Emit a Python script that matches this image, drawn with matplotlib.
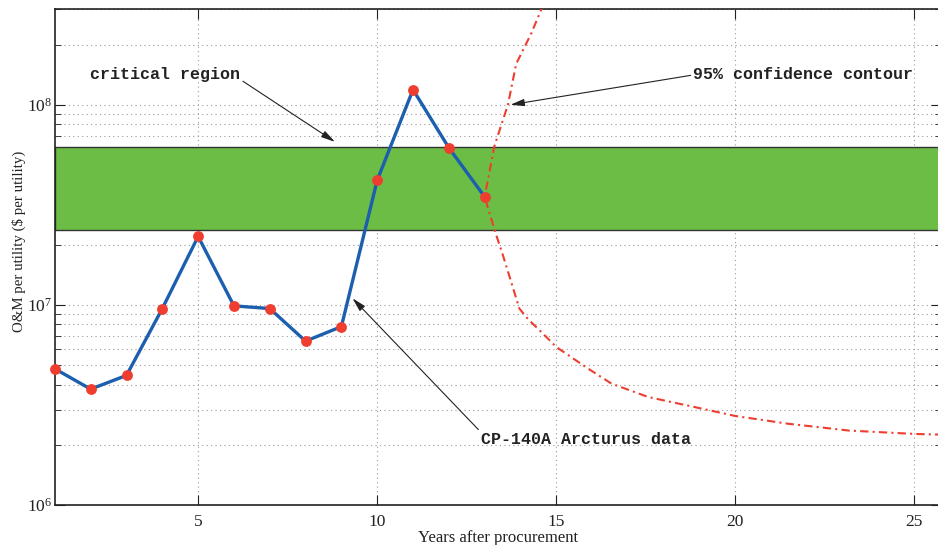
"""O&M cost per utility for the CP-140A Arcturus fleet, with the critical band
and the 95% confidence contour of the fitted cost model."""

import matplotlib

matplotlib.use("Agg")

from matplotlib import pyplot as plt
from matplotlib.ticker import FixedLocator, LogLocator, NullFormatter

# Observed O&M cost per utility ($) by year after procurement
YEARS = [1, 2, 3, 4, 5, 6, 7, 8, 9, 10, 11, 12, 13]
OM_COST = [4.8e6, 3.8e6, 4.45e6, 9.6e6, 2.2e7, 9.9e6, 9.6e6,
           6.6e6, 7.8e6, 4.2e7, 1.19e8, 6.1e7, 3.47e7]

# 95% confidence contour, traced from the top branch down to the long tail
CONTOUR_YEARS = [14.65, 14.3, 13.88, 13.65, 13.27, 13.0, 13.3, 13.49, 13.97,
                 14.2, 14.77, 15.0, 15.89, 16.54, 17.57, 18.87, 20.0, 21.49,
                 23.17, 25.0, 25.8]
CONTOUR_COST = [3.2e8, 2.27e8, 1.6e8, 1.0e8, 6.2e7, 3.47e7, 2.3e7, 1.82e7,
                9.6e6, 8.55e6, 6.79e6, 6.17e6, 4.81e6, 4.05e6, 3.47e6, 3.09e6,
                2.79e6, 2.55e6, 2.36e6, 2.27e6, 2.25e6]

# Critical cost region ($ per utility)
BAND_LOW = 2.36e7
BAND_HIGH = 6.12e7

X_TICKS = [5, 10, 15, 20, 25]

BLUE = "#1c5fae"
RED = "#ef3e2f"
GREEN = "#6cbd45"
GRID = "#9a9a9a"


def style() -> None:
    plt.rcParams["font.family"] = ["Liberation Serif", "DejaVu Serif"]
    plt.rcParams["mathtext.fontset"] = "custom"
    plt.rcParams["mathtext.rm"] = "Liberation Serif"
    plt.rcParams["mathtext.it"] = "Liberation Serif:italic"
    plt.rcParams["mathtext.bf"] = "Liberation Serif:bold"


def annotate(ax, text, xy, xytext, relpos):
    ax.annotate(
        text,
        xy=xy,
        xytext=xytext,
        ha="left",
        va="center",
        family=["Liberation Mono", "DejaVu Sans Mono"],
        fontweight="bold",
        fontsize=12,
        color="#222222",
        arrowprops=dict(
            arrowstyle="-|>,head_length=0.7,head_width=0.18",
            color="#222222",
            lw=0.8,
            relpos=relpos,
            shrinkA=0,
            shrinkB=0,
        ),
        zorder=6,
    )


def main() -> None:
    style()
    fig = plt.figure(figsize=(9.38, 5.45), dpi=100)
    ax = fig.add_axes([0.0585, 0.073, 0.945, 0.910])

    ax.axhspan(BAND_LOW, BAND_HIGH, facecolor=GREEN, edgecolor="#333333",
               lw=1.0, zorder=2)
    ax.plot(YEARS, OM_COST, color=BLUE, lw=2.4, zorder=3)
    ax.plot(YEARS, OM_COST, ls="none", marker="o", ms=7.8, color=RED,
            markeredgewidth=0, zorder=4, clip_on=False)
    ax.plot(CONTOUR_YEARS, CONTOUR_COST, color=RED, lw=1.5,
            ls=(0, (4, 2, 1, 2)), zorder=5)

    ax.set_yscale("log")
    ax.set_xlim(1, 25.75)
    ax.set_ylim(1e6, 3e8)
    ax.xaxis.set_major_locator(FixedLocator(X_TICKS))
    ax.yaxis.set_major_locator(LogLocator(base=10, numticks=10))
    ax.yaxis.set_minor_locator(LogLocator(base=10, subs=range(2, 10), numticks=30))
    ax.yaxis.set_minor_formatter(NullFormatter())

    ax.grid(True, which="major", color=GRID, lw=0.8, ls=(0, (1, 3)), zorder=1)
    ax.grid(True, which="minor", axis="y", color=GRID, lw=0.8, ls=(0, (1, 3)),
            zorder=1)
    ax.set_axisbelow(True)

    ax.tick_params(which="both", direction="in", top=True, right=True,
                   labelsize=12.5, colors="#222222")
    ax.tick_params(which="major", length=7, width=0.8)
    ax.tick_params(which="minor", length=4, width=0.6)
    ax.tick_params(axis="x", pad=6)
    ax.tick_params(axis="y", pad=2)
    for spine in ax.spines.values():
        spine.set_color("#222222")
        spine.set_linewidth(1.2)

    ax.set_xlabel("Years after procurement", fontsize=12, labelpad=0,
                  color="#222222")
    ax.set_ylabel("O&M per utility ($ per utility)", fontsize=10.7,
                  color="#222222")
    ax.yaxis.set_label_coords(-0.033, 0.531)

    annotate(ax, "critical region", xy=(8.82, 6.53e7), xytext=(1.985, 1.41e8),
             relpos=(1.0, 0.2))
    annotate(ax, "95% confidence contour", xy=(13.72, 1.0e8),
             xytext=(18.83, 1.41e8), relpos=(0.0, 0.5))
    annotate(ax, "CP-140A Arcturus data", xy=(9.31, 1.08e7),
             xytext=(12.9, 2.12e6), relpos=(0.0, 1.0))

    fig.savefig("out.png", dpi=100)
    plt.close(fig)


if __name__ == "__main__":
    main()
